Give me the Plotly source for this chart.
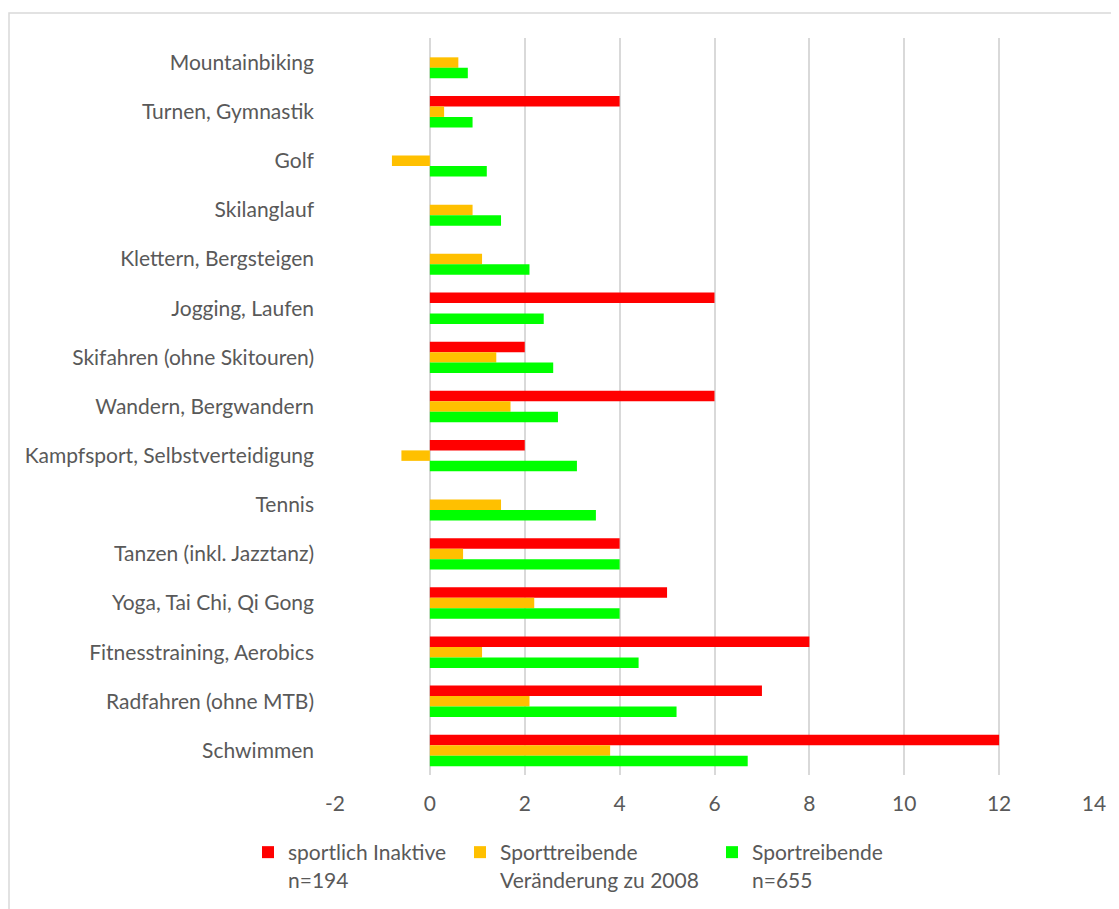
import plotly.graph_objects as go

categories = [
    "Mountainbiking",
    "Turnen, Gymnastik",
    "Golf",
    "Skilanglauf",
    "Klettern, Bergsteigen",
    "Jogging, Laufen",
    "Skifahren (ohne Skitouren)",
    "Wandern, Bergwandern",
    "Kampfsport, Selbstverteidigung",
    "Tennis",
    "Tanzen (inkl. Jazztanz)",
    "Yoga, Tai Chi, Qi Gong",
    "Fitnesstraining, Aerobics",
    "Radfahren (ohne MTB)",
    "Schwimmen",
]

inaktive = [None, 4, None, None, None, 6, 2, 6, 2, None, 4, 5, 8, 7, 12]
veraenderung = [0.6, 0.3, -0.8, 0.9, 1.1, None, 1.4, 1.7, -0.6, 1.5, 0.7, 2.2, 1.1, 2.1, 3.8]
sporttreibende = [0.8, 0.9, 1.2, 1.5, 2.1, 2.4, 2.6, 2.7, 3.1, 3.5, 4.0, 4.0, 4.4, 5.2, 6.7]

series_names = [
    "sportlich Inaktive<br>n=194",
    "Sporttreibende<br>Veränderung zu 2008",
    "Sportreibende<br>n=655",
]
series_values = [inaktive, veraenderung, sporttreibende]
series_colors = ["#FF0000", "#FFC000", "#00FF00"]
legend_ids = ["legend", "legend2", "legend3"]

x_ticks = [-2, 0, 2, 4, 6, 8, 10, 12, 14]

FONT = "Lato"
FS = 21
TXT = "#595959"

# page offset (body margin) in the rendered page
OFF = 8
W, H = 1119, 909
# desired on-screen plot area
PL, PR, PT, PB = 335, 1094, 38, 775
L = PL - OFF
T = PT - OFF
R = W - (PR - OFF)
B = H - (PB - OFF)
PW, PH = PR - PL, PB - PT

def px_x(p):
    return (p - PL) / PW

def px_y(p):
    return (PB - p) / PH

fig = go.Figure()
for name, vals, col, lg in zip(series_names, series_values, series_colors, legend_ids):
    fig.add_trace(go.Bar(
        y=categories, x=vals, orientation="h", name=name,
        marker=dict(color=col, line=dict(width=0)),
        legend=lg,
    ))

leg_common = dict(
    orientation="h", yanchor="top", xanchor="left", valign="top",
    font=dict(family=FONT, size=FS, color=TXT), bgcolor="rgba(0,0,0,0)",
    itemwidth=30, tracegroupgap=0,
)
legend_lefts = [248, 460, 712]
legend_top = 832
layout_legends = {}
for lg, lx in zip(legend_ids, legend_lefts):
    layout_legends[lg] = dict(leg_common, x=px_x(lx), y=px_y(legend_top))

fig.update_layout(
    width=W, height=H,
    margin=dict(l=L, r=R, t=T, b=B),
    paper_bgcolor="white", plot_bgcolor="white",
    barmode="group", bargap=0.36, bargroupgap=0,
    font=dict(family=FONT, size=FS, color=TXT),
    showlegend=True,
    **layout_legends,
    xaxis=dict(
        range=[-2, 14], tickvals=x_ticks, ticktext=[str(v) for v in x_ticks],
        showgrid=True, gridcolor="#D9D9D9", gridwidth=2,
        zeroline=True, zerolinecolor="#D9D9D9", zerolinewidth=2,
        showline=False, ticks="", ticklabelstandoff=14,
        tickfont=dict(family=FONT, size=FS, color=TXT),
    ),
    yaxis=dict(
        categoryorder="array", categoryarray=categories,
        range=[14.5, -0.5], showgrid=False, zeroline=False, showline=False,
        ticks="", ticklabelstandoff=20,
        tickfont=dict(family=FONT, size=FS, color=TXT),
    ),
    shapes=[dict(
        type="rect", xref="paper", yref="paper",
        x0=px_x(9), x1=px_x(1135), y0=px_y(925), y1=px_y(13),
        line=dict(color="#D9D9D9", width=1.5), fillcolor="rgba(0,0,0,0)",
        layer="below",
    )],
)

fig.write_html("out.html")
